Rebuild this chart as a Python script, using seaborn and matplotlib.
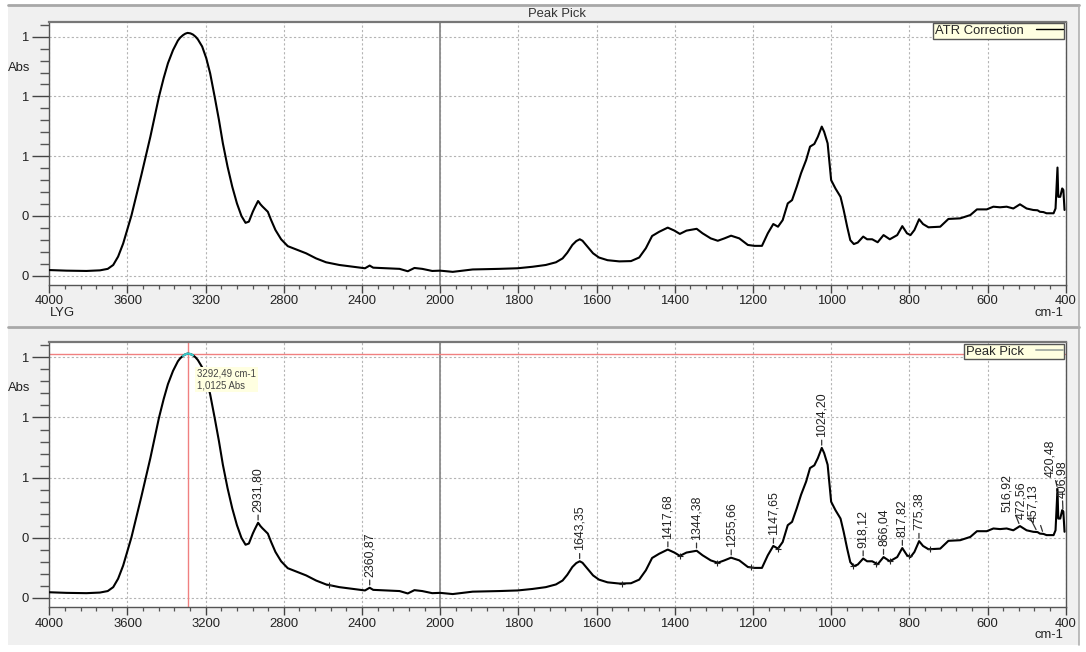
import numpy as np
import pandas as pd
import matplotlib
matplotlib.use("Agg")
import matplotlib.pyplot as plt
import seaborn as sns
from matplotlib.lines import Line2D
from matplotlib.patches import Rectangle
from matplotlib.ticker import FixedLocator, FuncFormatter

# ---------------- data ----------------
wavenumber = [4000, 3912, 3810, 3741, 3701, 3673, 3648, 3622, 3597, 3580, 3554, 3529, 3507,
              3483, 3461, 3439, 3415, 3393, 3367, 3342, 3330, 3316, 3304, 3292.49, 3278, 3265, 3252,
              3240, 3218, 3197,
              3177, 3154, 3132, 3112, 3088, 3064, 3040, 3017, 2996, 2979, 2959, 2949, 2932, 2927, 2921,
              2910, 2899, 2882, 2865, 2843, 2814, 2780, 2737, 2686, 2635, 2584, 2516, 2444, 2385,
              2361, 2343, 2275, 2208, 2166, 2132, 2092, 2041, 2000, 1968, 1917, 1849, 1802,
              1764, 1730, 1704, 1687, 1675, 1662, 1652, 1643, 1636, 1623, 1609, 1594, 1572, 1542,
              1512, 1491, 1474, 1458, 1440, 1418, 1401, 1387, 1370, 1344, 1329, 1308, 1290,
              1273, 1256, 1235, 1213, 1196, 1177, 1162, 1148, 1136, 1124, 1111, 1100, 1088,
              1077, 1064, 1054, 1043, 1034, 1024, 1018, 1009, 1000, 989, 976, 968, 959, 951,
              942, 932, 918, 908, 895, 881, 866, 850, 831, 818, 806, 797, 787, 775, 765, 751,
              721, 700, 670, 644, 627, 602, 585, 568, 551, 534, 517, 500, 483, 472, 466, 457,
              449, 431, 426, 421, 419, 414, 409, 406, 403]
absorbance = [0.219, 0.217, 0.216, 0.218, 0.223, 0.236, 0.264, 0.308, 0.364, 0.401, 0.470, 0.537, 0.598,
              0.665, 0.732, 0.799, 0.861, 0.911, 0.955, 0.987, 0.997, 1.005, 1.010, 1.0125, 1.011, 1.007, 1.000,
              0.991, 0.967, 0.928,
              0.877, 0.799, 0.721, 0.643, 0.565, 0.498, 0.442, 0.400, 0.377, 0.381, 0.414, 0.428, 0.450, 0.446, 0.440,
              0.432, 0.425, 0.414, 0.386, 0.353, 0.322, 0.299, 0.288, 0.275, 0.258, 0.245, 0.236, 0.230, 0.225,
              0.234, 0.227, 0.225, 0.223, 0.215, 0.226, 0.223, 0.216, 0.217, 0.213, 0.221, 0.223, 0.225,
              0.230, 0.236, 0.245, 0.258, 0.277, 0.303, 0.316, 0.322, 0.317, 0.297, 0.275, 0.261, 0.252, 0.248,
              0.249, 0.261, 0.292, 0.333, 0.347, 0.361, 0.351, 0.340, 0.351, 0.357, 0.342, 0.325, 0.317,
              0.325, 0.334, 0.325, 0.303, 0.300, 0.300, 0.342, 0.373, 0.364, 0.386, 0.442, 0.453, 0.498,
              0.543, 0.587, 0.632, 0.641, 0.665, 0.699, 0.682, 0.643, 0.520, 0.492, 0.464, 0.420, 0.364, 0.319,
              0.306, 0.311, 0.331, 0.322, 0.322, 0.312, 0.336, 0.322, 0.336, 0.366, 0.342, 0.336, 0.353, 0.389, 0.373, 0.362,
              0.364, 0.390, 0.392, 0.403, 0.422, 0.422, 0.431, 0.429, 0.431, 0.425, 0.439, 0.425, 0.420, 0.419, 0.414, 0.413,
              0.409, 0.409, 0.425, 0.562, 0.464, 0.464, 0.492, 0.487, 0.420]

peak_wn = [2931.80, 2360.87, 1643.35, 1417.68, 1344.38, 1255.66, 1147.65, 1024.20,
           918.12, 866.04, 817.82, 775.38, 516.92, 472.56, 457.13, 420.48, 406.98]
peak_abs = [0.450, 0.234, 0.322, 0.361, 0.357, 0.334, 0.373, 0.699,
            0.331, 0.336, 0.366, 0.389, 0.439, 0.419, 0.413, 0.562, 0.487]
peak_labels = ["2931,80", "2360,87", "1643,35", "1417,68", "1344,38", "1255,66", "1147,65",
               "1024,20", "918,12", "866,04", "817,82", "775,38", "516,92", "472,56",
               "457,13", "420,48", "406,98"]

baseline_wn = [2568, 1535, 1386, 1291, 1206, 1137, 945, 885, 850, 800, 748]
baseline_abs = [0.243, 0.248, 0.340, 0.317, 0.302, 0.364, 0.307, 0.312, 0.322, 0.338, 0.362]

x_major = [4000, 3600, 3200, 2800, 2400, 2000, 1800, 1600, 1400, 1200, 1000, 800, 600, 400]
y_major = [0.2, 0.4, 0.6, 0.8, 1.0]

cursor_wn = 3292.49
cursor_abs = 1.0125

df = pd.DataFrame({"wn": wavenumber, "abs": absorbance})

# ---------------- styling ----------------
sns.set_style("white")
plt.rcParams["font.family"] = ["Liberation Sans", "DejaVu Sans"]

W, H = 1086, 652
FS = 9.4
fig = plt.figure(figsize=(W / 100, H / 100), dpi=100, facecolor="white")


def fx(px):
    return px / W


def fy(py):
    return 1 - py / H


# panel backgrounds
for (y0, y1) in [(5, 326), (327, 645)]:
    fig.patches.append(Rectangle((fx(8), fy(y1)), fx(1079) - fx(8), fy(y0) - fy(y1),
                                 transform=fig.transFigure, facecolor="#f0f0f0",
                                 edgecolor="none", zorder=-10))
fig.add_artist(Line2D([fx(8), fx(1079)], [fy(5), fy(5)], color="#a8a8a8", lw=2, transform=fig.transFigure))
fig.add_artist(Line2D([fx(8), fx(1079)], [fy(326.5), fy(326.5)], color="#a8a8a8", lw=2, transform=fig.transFigure))
fig.add_artist(Line2D([fx(1079), fx(1079)], [fy(5), fy(645)], color="#b0b0b0", lw=1.2, transform=fig.transFigure))


def fwd(x):
    x = np.asarray(x, dtype=float)
    return np.where(x > 2000, 2000 + (x - 2000) / 2.0, x)


def inv(y):
    y = np.asarray(y, dtype=float)
    return np.where(y > 2000, 2000 + (y - 2000) * 2.0, y)


x_minor = [v for v in list(np.arange(4000, 2000, -80)) + list(np.arange(2000, 399, -40))
           if v not in x_major]
y_minor = [v for v in np.round(np.arange(0.16, 1.05, 0.04), 2) if v not in y_major]

ax_top = fig.add_axes([fx(49.3), fy(285), fx(1065.7) - fx(49.3), fy(21.7) - fy(285)])
ax_bot = fig.add_axes([fx(49.3), fy(607.3), fx(1065.7) - fx(49.3), fy(342.3) - fy(607.3)])

for ax in (ax_top, ax_bot):
    ax.set_facecolor("white")
    ax.set_xscale("function", functions=(fwd, inv))
    ax.set_xlim(4000, 400)
    ax.set_ylim(0.169, 1.050)
    ax.xaxis.set_major_locator(FixedLocator(x_major))
    ax.xaxis.set_minor_locator(FixedLocator(x_minor))
    ax.xaxis.set_major_formatter(FuncFormatter(lambda v, p: f"{v:.0f}"))
    ax.xaxis.set_minor_formatter(FuncFormatter(lambda v, p: ""))
    ax.yaxis.set_major_locator(FixedLocator(y_major))
    ax.yaxis.set_minor_locator(FixedLocator(y_minor))
    ax.yaxis.set_major_formatter(FuncFormatter(lambda v, p: f"{v:.0f}"))
    ax.grid(True, which="major", ls=(0, (2, 2)), color="#b4b4b4", lw=0.8)
    ax.axvline(2000, color="#8c8c8c", lw=1.3, zorder=1.5)
    ax.tick_params(axis="y", which="major", length=12.5, width=1.0, color="#444",
                   labelsize=FS, labelcolor="#222", pad=2.5, left=True)
    ax.tick_params(axis="y", which="minor", length=6.5, width=1.0, color="#555", left=True)
    ax.tick_params(axis="x", which="major", length=5.5, width=1.0, color="#444",
                   labelsize=FS, labelcolor="#222", pad=2.0, bottom=True)
    ax.tick_params(axis="x", which="minor", length=3, width=0.9, color="#555", bottom=True)
    for s in ax.spines.values():
        s.set_color("#555")
        s.set_linewidth(1.0)
    ax.spines["top"].set_linewidth(1.6)
    ax.spines["top"].set_color("#777")
    sns.lineplot(data=df, x="wn", y="abs", ax=ax, color="black", lw=1.5,
                 sort=False, estimator=None, legend=False, zorder=3)
    ax.set_xlabel("")
    ax.set_ylabel("")

# ---- top panel extras ----
ax_top.legend(handles=[Line2D([], [], color="black", lw=1.0)], labels=["ATR Correction"],
              loc="upper right", markerfirst=False, frameon=True, fancybox=False,
              facecolor="#ffffe1", edgecolor="#555", framealpha=1, borderaxespad=0.12,
              handlelength=2.0, handletextpad=1.0, borderpad=0.12, fontsize=FS)
fig.text(fx(557), fy(14), "Peak Pick", ha="center", va="center", fontsize=FS, color="#333")
fig.text(fx(8), fy(68), "Abs", ha="left", va="center", fontsize=FS, color="#222")
fig.text(fx(50), fy(313), "LYG", ha="left", va="center", fontsize=FS, color="#222")
fig.text(fx(1063), fy(313), "cm-1", ha="right", va="center", fontsize=FS, color="#222")

# ---- bottom panel extras ----
ax_bot.axhline(cursor_abs, color="#f08080", lw=1.0, zorder=2.5)
ax_bot.axvline(cursor_wn, color="#f08080", lw=1.0, zorder=2.5)
sel = df[(df["wn"] - cursor_wn).abs() < 30]
ax_bot.plot(sel["wn"], sel["abs"], color="#3cc8c8", lw=1.6, zorder=4)
ax_bot.annotate(f"{cursor_wn:.2f} cm-1\n{cursor_abs:.4f} Abs".replace(".", ","),
                xy=(cursor_wn, cursor_abs), xytext=(6.5, -11), textcoords="offset points",
                ha="left", va="top", fontsize=6.9, color="#444", linespacing=1.15,
                bbox=dict(boxstyle="square,pad=0.2", facecolor="#ffffe1", edgecolor="none"),
                zorder=6)
sns.scatterplot(x=baseline_wn, y=baseline_abs, ax=ax_bot, marker="+", s=22,
                color="#222", linewidth=0.8, zorder=4, legend=False)

label_offsets = {"516,92": (-13, 13.6), "472,56": (-16.4, 13.6), "457,13": (-10, 11.7),
                 "420,48": (-7.6, 11.8), "406,98": (-1.2, 14)}
for wn, ab, lab in zip(peak_wn, peak_abs, peak_labels):
    dxp, dyp = label_offsets.get(lab, (0, 11))
    ax_bot.annotate(lab, xy=(wn, ab), xytext=(dxp / 1.389, dyp / 1.389),
                    textcoords="offset points", rotation=90, ha="center", va="bottom",
                    fontsize=8.9, color="#222", zorder=5,
                    arrowprops=dict(arrowstyle="-", color="#333", lw=0.9,
                                    shrinkA=0, shrinkB=2))

ax_bot.legend(handles=[Line2D([], [], color="#a9b0a6", lw=1.4)], labels=["Peak Pick"],
              loc="upper right", markerfirst=False, frameon=True, fancybox=False,
              facecolor="#ffffe1", edgecolor="#555", framealpha=1, borderaxespad=0.12,
              handlelength=2.0, handletextpad=1.0, borderpad=0.12, fontsize=FS)
fig.text(fx(8), fy(388), "Abs", ha="left", va="center", fontsize=FS, color="#222")
fig.text(fx(1063), fy(635), "cm-1", ha="right", va="center", fontsize=FS, color="#222")

fig.savefig("out.png", dpi=100, facecolor=fig.get_facecolor())
